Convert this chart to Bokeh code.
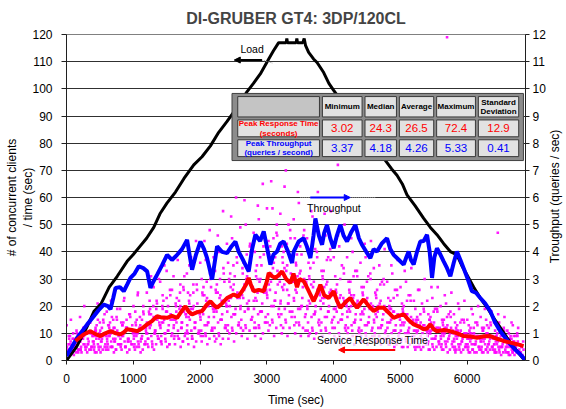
import math
from bokeh.plotting import figure
from bokeh.models import Range1d, LinearAxis, FixedTicker, Label, Arrow, NormalHead
from bokeh.embed import file_html
from bokeh.resources import INLINE

FONT = "Liberation Sans"

# ---------------- data ----------------
load_t = [0, 150, 300, 410, 520, 640, 760, 908, 1000, 1100, 1200, 1307, 1400, 1507, 1632, 1760, 1906,
          2030, 2156, 2280, 2405, 2550, 2705, 2800, 2903, 3029, 3100, 3178, 3290, 3300, 3310, 3440,
          3450, 3460, 3540, 3560, 3580, 3627, 3700, 3753, 3852, 3930, 4002, 4100, 4250, 4400, 4550,
          4650, 4775, 4870, 4950, 5030, 5100, 5220, 5350, 5450, 5549, 5650, 5749, 5848, 5920, 5997,
          6100, 6198, 6300, 6397, 6500, 6597, 6700, 6780, 6846]
load_n = [0, 5, 12, 18, 21, 27, 31, 36.5, 39, 42, 45, 49, 54, 58, 62, 67, 72,
          75, 79, 84, 88, 93, 99, 102, 105.5, 111, 114, 117, 117, 118.5, 117, 117,
          118.5, 117, 117, 118.5, 116, 113.4, 111, 109.7, 106, 102, 99.4, 96, 91, 86, 81,
          77.5, 73.7, 70.5, 68.2, 65, 61, 57, 52.3, 49, 46.3, 43, 40.1, 38.9, 35, 31.6,
          27, 23, 19.5, 15.7, 12, 8.4, 5, 2.5, 0.5]

tp_t = [0, 80, 160, 240, 310, 400, 480, 559, 620, 659, 700, 734, 800, 858, 910, 958, 1020, 1083,
        1150, 1208, 1257, 1300, 1358, 1430, 1507, 1580, 1657, 1730, 1806, 1881, 1940, 2006, 2060,
        2106, 2181, 2256, 2330, 2405, 2470, 2530, 2580, 2630, 2729, 2780, 2829, 2900, 2954, 3000,
        3054, 3100, 3154, 3200, 3253, 3320, 3378, 3403, 3478, 3553, 3600, 3653, 3700, 3728, 3780,
        3828, 3860, 3902, 3950, 4002, 4050, 4102, 4150, 4202, 4260, 4327, 4380, 4426, 4490, 4551,
        4600, 4651, 4720, 4801, 4850, 4900, 4980, 5050, 5090, 5125, 5160, 5200, 5250, 5299, 5350,
        5400, 5440, 5475, 5510, 5549, 5600, 5649, 5700, 5749, 5800, 5848, 5900, 5948, 6010, 6073,
        6130, 6198, 6270, 6347, 6420, 6497, 6570, 6647, 6720, 6796, 6871]
tp_v = [0.17, 0.5, 0.84, 1.1, 1.33, 1.6, 1.85, 2.06, 2.0, 1.89, 2.3, 2.67, 2.7, 2.55, 2.8, 3.04, 3.2, 3.47,
        3.4, 3.28, 2.67, 2.9, 3.16, 3.5, 3.89, 3.7, 3.89, 4.1, 4.44, 3.34, 3.9, 4.38, 4.1,
        3.77, 2.98, 4.2, 4.0, 3.95, 4.2, 4.38, 4.0, 3.77, 3.28, 4.1, 4.63, 4.4, 4.75, 4.2,
        3.53, 3.9, 4.01, 4.3, 4.38, 4.0, 3.59, 4.01, 4.38, 4.5, 4.2, 3.77, 4.6, 5.23, 4.6,
        4.26, 4.7, 4.99, 4.5, 4.13, 4.6, 4.99, 4.6, 4.38, 4.7, 4.99, 4.5, 4.26, 4.0, 3.77,
        4.1, 4.01, 4.3, 4.5, 4.1, 3.89, 3.7, 3.53, 3.8, 4.01, 3.7, 3.53, 4.0, 4.38, 4.4,
        4.63, 4.0, 3.04, 3.8, 4.13, 3.9, 3.65, 3.4, 3.10, 3.6, 4.01, 3.7, 3.40, 3.0, 2.55,
        2.5, 2.30, 2.1, 1.82, 1.4, 1.08, 0.85, 0.6, 0.4, 0.23, 0.02]

rt_t = [135, 250, 359, 430, 509, 580, 659, 740, 808, 860, 908, 980, 1057, 1130, 1207, 1280, 1357,
        1430, 1507, 1580, 1657, 1720, 1781, 1830, 1881, 1960, 2031, 2100, 2156, 2210, 2256, 2330,
        2405, 2505, 2570, 2630, 2690, 2729, 2760, 2804, 2880, 2954, 3000, 3029, 3080, 3129, 3180,
        3229, 3290, 3353, 3400, 3453, 3490, 3553, 3620, 3702, 3760, 3802, 3860, 3927, 4002, 4050,
        4102, 4180, 4251, 4300, 4352, 4400, 4451, 4530, 4601, 4680, 4750, 4830, 4900, 4980, 5050,
        5120, 5200, 5280, 5349, 5400, 5449, 5500, 5549, 5650, 5749, 5850, 5948, 6050, 6148, 6250,
        6347, 6450, 6547, 6650, 6747, 6846]
rt_v = [7.2, 9.5, 10.8, 9.8, 9.0, 10, 10.8, 10, 9.6, 10.4, 11.5, 11.2, 10.8, 11.8, 13.3, 14.5, 16.3,
        15.8, 15.7, 16.4, 15.7, 18, 20, 18, 17, 17.8, 18.2, 20.5, 21.8, 20.3, 19.4, 21,
        23, 24.3, 23.5, 25.5, 28, 30.4, 28, 25.5, 26, 25.5, 29, 32.2, 31, 30.4, 31.5,
        32.8, 30, 28.5, 32, 27, 30, 29.2, 26, 21.8, 25, 27.9, 24, 23, 25.5, 22,
        19.4, 21.5, 23, 21, 19.4, 21, 22.5, 20, 18.2, 19.5, 19.4, 17.5, 15.7, 16.5, 17,
        15, 13.3, 12.5, 11.5, 11.8, 13.3, 11.5, 10.8, 11.2, 10.8, 10, 9, 8.8, 8.4, 8.9,
        9, 8, 7.2, 6.6, 6, 5.3]

# individual request response times (first sample set)
pts_t = [20, 45, 70, 95, 120, 150, 175, 190,
         210, 230, 255, 280, 300, 320, 345, 365, 380, 395,
         410, 430, 450, 470, 490, 510, 530, 550, 570, 590,
         610, 625, 645, 660, 680, 700, 720, 740, 760, 780,
         805, 820, 840, 860, 880, 900, 920, 940, 960, 985,
         1010, 1030, 1050, 1070, 1090, 1110, 1130, 1150, 1170, 1190,
         1205, 1225, 1245, 1265, 1285, 1305, 1325, 1345, 1365, 1385,
         1405, 1420, 1440, 1460, 1480, 1500, 1520, 1540, 1560, 1580,
         1605, 1625, 1645, 1665, 1685, 1705, 1725, 1745, 1765, 1785,
         1805, 1820, 1840, 1860, 1880, 1900, 1920, 1940, 1960, 1985,
         2005, 2025, 2045, 2065, 2085, 2105, 2125, 2145, 2165, 2185,
         2205, 2225, 2245, 2265, 2285, 2305, 2325, 2345, 2365, 2385,
         2405, 2420, 2440, 2460, 2480, 2500, 2520, 2540, 2560, 2580,
         2605, 2625, 2645, 2665, 2685, 2705, 2725, 2745, 2765, 2785,
         2805, 2820, 2840, 2860, 2880, 2900, 2920, 2940, 2960, 2985,
         3005, 3025, 3045, 3065, 3085, 3105, 3125, 3145, 3165, 3185,
         3205, 3225, 3245, 3265, 3285, 3305, 3325, 3345, 3365, 3385,
         3405, 3420, 3440, 3460, 3480, 3500, 3520, 3540, 3560, 3580,
         3605, 3625, 3645, 3665, 3685, 3705, 3725, 3745, 3765, 3785,
         3805, 3820, 3840, 3860, 3880, 3900, 3920, 3940, 3960, 3985,
         4005, 4025, 4045, 4065, 4085, 4105, 4125, 4145, 4165, 4185,
         4205, 4225, 4245, 4265, 4285, 4305, 4325, 4345, 4365, 4385,
         4405, 4420, 4440, 4460, 4480, 4500, 4520, 4540, 4560, 4580,
         4605, 4625, 4645, 4665, 4685, 4705, 4725, 4745, 4765, 4785,
         4805, 4820, 4840, 4860, 4880, 4900, 4920, 4940, 4960, 4985,
         5005, 5025, 5045, 5065, 5085, 5105, 5125, 5145, 5165, 5185,
         5205, 5225, 5245, 5265, 5285, 5305, 5325, 5345, 5365, 5385,
         5405, 5420, 5440, 5460, 5480, 5500, 5520, 5540, 5560, 5580,
         5605, 5625, 5645, 5665, 5685, 5705, 5725, 5745, 5765, 5785,
         5805, 5820, 5840, 5860, 5880, 5900, 5920, 5940, 5960, 5985,
         6005, 6025, 6045, 6065, 6085, 6105, 6125, 6145, 6165, 6185,
         6205, 6225, 6245, 6265, 6285, 6305, 6325, 6345, 6365, 6385,
         6405, 6420, 6440, 6460, 6480, 6500, 6520, 6540, 6560, 6580,
         6605, 6625, 6645, 6665, 6685, 6705, 6725, 6745, 6765, 6790, 6820, 6840,
         5700]
pts_rt = [2, 4, 3, 6, 5, 8, 3, 7,
          4, 9, 6, 12, 5, 8, 14, 4, 10, 7,
          6, 11, 3, 15, 8, 5, 12, 9, 17, 4,
          7, 13, 10, 5, 16, 8, 12, 4, 19, 9,
          6, 14, 10, 22, 5, 12, 8, 17, 7, 13,
          9, 18, 5, 25, 11, 7, 15, 20, 6, 12,
          14, 8, 22, 17, 5, 27, 11, 19, 9, 30,
          13, 7, 24, 16, 10, 33, 20, 6, 15, 26,
          12, 38, 18, 9, 22, 28, 14, 7, 31, 17,
          11, 25, 35, 19, 8, 28, 14, 44, 21, 10,
          16, 30, 9, 24, 37, 13, 20, 48, 27, 11,
          18, 33, 8, 25, 40, 15, 22, 55, 29, 12,
          20, 36, 10, 27, 45, 17, 31, 60, 23, 13,
          19, 38, 11, 28, 50, 21, 33, 42, 15, 26,
          22, 40, 12, 30, 52, 18, 35, 65, 25, 14,
          24, 44, 13, 32, 56, 20, 38, 47, 28, 16,
          21, 42, 12, 34, 70, 26, 50, 18, 37, 29,
          23, 45, 14, 31, 58, 19, 39, 27, 48, 11,
          20, 36, 10, 28, 53, 17, 41, 24, 62, 13,
          22, 33, 9, 27, 46, 16, 38, 25, 55, 12,
          19, 31, 8, 72, 42, 15, 35, 23, 50, 11,
          18, 29, 8, 24, 40, 14, 33, 21, 47, 10,
          17, 27, 7, 22, 38, 13, 31, 19, 44, 9,
          15, 25, 7, 20, 35, 12, 29, 17, 41, 8,
          14, 23, 6, 19, 32, 11, 26, 16, 37, 8,
          13, 21, 5, 17, 29, 10, 24, 14, 34, 7,
          11, 19, 5, 15, 26, 9, 21, 13, 30, 6,
          10, 17, 4, 14, 23, 8, 19, 12, 27, 6,
          9, 15, 4, 12, 21, 7, 17, 10, 25, 5,
          8, 14, 4, 11, 19, 6, 15, 9, 22, 5,
          8, 13, 3, 10, 17, 6, 14, 9, 20, 4,
          7, 12, 3, 9, 15, 5, 12, 8, 18, 4,
          6, 11, 3, 47, 14, 5, 10, 7, 16, 3,
          6, 10, 2, 8, 13, 4, 9, 6, 12, 3, 5, 7,
          119]

# individual request response times (second sample set)
pts2_t = [12, 30, 52, 70, 92, 110, 132, 150, 172, 190, 8, 25, 40, 62, 80, 100, 118, 142, 160, 182,
          212, 230, 252, 270, 292, 310, 332, 350, 372, 390, 208, 225, 240, 262, 280, 300, 318, 342, 360, 382,
          412, 430, 452, 470, 492, 510, 532, 550, 572, 590, 408, 425, 440, 462, 480, 500, 518, 542, 560, 582,
          612, 630, 652, 670, 692, 710, 732, 750, 772, 790, 608, 625, 640, 662, 680, 700, 718, 742, 760, 782,
          812, 830, 852, 870, 892, 910, 932, 950, 972, 990, 808, 825, 840, 862, 880, 900, 918, 942, 960, 982,
          1012, 1030, 1052, 1070, 1092, 1110, 1132, 1150, 1172, 1190, 1008, 1025, 1040, 1062, 1080, 1100, 1118, 1142, 1160, 1182,
          1212, 1230, 1252, 1270, 1292, 1310, 1332, 1350, 1372, 1390, 1208, 1225, 1240, 1262, 1280, 1300, 1318, 1342, 1360, 1382,
          1412, 1430, 1452, 1470, 1492, 1510, 1532, 1550, 1572, 1590, 1408, 1425, 1440, 1462, 1480, 1500, 1518, 1542, 1560, 1582,
          1612, 1630, 1652, 1670, 1692, 1710, 1732, 1750, 1772, 1790, 1608, 1625, 1640, 1662, 1680, 1700, 1718, 1742, 1760, 1782,
          1812, 1830, 1852, 1870, 1892, 1910, 1932, 1950, 1972, 1990, 1808, 1825, 1840, 1862, 1880, 1900, 1918, 1942, 1960, 1982,
          2012, 2030, 2052, 2070, 2092, 2110, 2132, 2150, 2172, 2190, 2008, 2025, 2040, 2062, 2080, 2100, 2118, 2142, 2160, 2182,
          2212, 2230, 2252, 2270, 2292, 2310, 2332, 2350, 2372, 2390, 2208, 2225, 2240, 2262, 2280, 2300, 2318, 2342, 2360, 2382,
          2412, 2430, 2452, 2470, 2492, 2510, 2532, 2550, 2572, 2590, 2408, 2425, 2440, 2462, 2480, 2500, 2518, 2542, 2560, 2582,
          2612, 2630, 2652, 2670, 2692, 2710, 2732, 2750, 2772, 2790, 2608, 2625, 2640, 2662, 2680, 2700, 2718, 2742, 2760, 2782,
          2812, 2830, 2852, 2870, 2892, 2910, 2932, 2950, 2972, 2990, 2808, 2825, 2840, 2862, 2880, 2900, 2918, 2942, 2960, 2982,
          3012, 3030, 3052, 3070, 3092, 3110, 3132, 3150, 3172, 3190, 3008, 3025, 3040, 3062, 3080, 3100, 3118, 3142, 3160, 3182,
          3212, 3230, 3252, 3270, 3292, 3310, 3332, 3350, 3372, 3390, 3208, 3225, 3240, 3262, 3280, 3300, 3318, 3342, 3360, 3382,
          3412, 3430, 3452, 3470, 3492, 3510, 3532, 3550, 3572, 3590, 3408, 3425, 3440, 3462, 3480, 3500, 3518, 3542, 3560, 3582,
          3612, 3630, 3652, 3670, 3692, 3710, 3732, 3750, 3772, 3790, 3608, 3625, 3640, 3662, 3680, 3700, 3718, 3742, 3760, 3782,
          3812, 3830, 3852, 3870, 3892, 3910, 3932, 3950, 3972, 3990, 3808, 3825, 3840, 3862, 3880, 3900, 3918, 3942, 3960, 3982,
          4012, 4030, 4052, 4070, 4092, 4110, 4132, 4150, 4172, 4190, 4008, 4025, 4040, 4062, 4080, 4100, 4118, 4142, 4160, 4182,
          4212, 4230, 4252, 4270, 4292, 4310, 4332, 4350, 4372, 4390, 4208, 4225, 4240, 4262, 4280, 4300, 4318, 4342, 4360, 4382,
          4412, 4430, 4452, 4470, 4492, 4510, 4532, 4550, 4572, 4590, 4408, 4425, 4440, 4462, 4480, 4500, 4518, 4542, 4560, 4582,
          4612, 4630, 4652, 4670, 4692, 4710, 4732, 4750, 4772, 4790, 4608, 4625, 4640, 4662, 4680, 4700, 4718, 4742, 4760, 4782,
          4812, 4830, 4852, 4870, 4892, 4910, 4932, 4950, 4972, 4990, 4808, 4825, 4840, 4862, 4880, 4900, 4918, 4942, 4960, 4982,
          5012, 5030, 5052, 5070, 5092, 5110, 5132, 5150, 5172, 5190, 5008, 5025, 5040, 5062, 5080, 5100, 5118, 5142, 5160, 5182,
          5212, 5230, 5252, 5270, 5292, 5310, 5332, 5350, 5372, 5390, 5208, 5225, 5240, 5262, 5280, 5300, 5318, 5342, 5360, 5382,
          5412, 5430, 5452, 5470, 5492, 5510, 5532, 5550, 5572, 5590, 5408, 5425, 5440, 5462, 5480, 5500, 5518, 5542, 5560, 5582,
          5612, 5630, 5652, 5670, 5692, 5710, 5732, 5750, 5772, 5790, 5608, 5625, 5640, 5662, 5680, 5700, 5718, 5742, 5760, 5782,
          5812, 5830, 5852, 5870, 5892, 5910, 5932, 5950, 5972, 5990, 5808, 5825, 5840, 5862, 5880, 5900, 5918, 5942, 5960, 5982,
          6012, 6030, 6052, 6070, 6092, 6110, 6132, 6150, 6172, 6190, 6008, 6025, 6040, 6062, 6080, 6100, 6118, 6142, 6160, 6182,
          6212, 6230, 6252, 6270, 6292, 6310, 6332, 6350, 6372, 6390, 6208, 6225, 6240, 6262, 6280, 6300, 6318, 6342, 6360, 6382,
          6412, 6430, 6452, 6470, 6492, 6510, 6532, 6550, 6572, 6590, 6408, 6425, 6440, 6462, 6480, 6500, 6518, 6542, 6560, 6582,
          6612, 6630, 6652, 6670, 6692, 6710, 6732, 6750, 6772, 6790, 6608, 6625, 6640, 6662, 6680, 6700, 6718, 6742, 6760, 6782,
          6805, 6815, 6830, 6845]
pts2_rt = [3, 6, 9, 5, 8, 2, 6, 11, 4, 7, 5, 3, 8, 7, 4, 10, 5, 3, 7, 4,
           4, 8, 12, 6, 10, 3, 7, 14, 5, 9, 7, 3, 11, 9, 5, 13, 6, 4, 10, 5,
           4, 9, 13, 6, 10, 3, 8, 15, 5, 10, 7, 3, 11, 9, 5, 14, 7, 4, 10, 6,
           5, 9, 14, 7, 11, 3, 8, 16, 6, 10, 8, 4, 12, 10, 5, 15, 7, 4, 11, 6,
           5, 9, 14, 7, 12, 3, 8, 17, 6, 11, 8, 4, 13, 10, 5, 15, 7, 4, 11, 6,
           5, 10, 15, 7, 12, 3, 9, 18, 6, 11, 8, 4, 13, 10, 6, 16, 8, 4, 12, 7,
           6, 13, 19, 9, 15, 4, 11, 22, 8, 14, 10, 5, 17, 13, 7, 20, 10, 6, 15, 8,
           7, 14, 22, 10, 18, 5, 13, 26, 9, 16, 12, 6, 19, 15, 8, 23, 11, 6, 17, 10,
           8, 15, 23, 11, 19, 5, 14, 27, 9, 17, 13, 6, 20, 16, 8, 25, 12, 7, 18, 10,
           8, 16, 24, 11, 19, 5, 14, 28, 10, 18, 13, 6, 21, 17, 9, 25, 12, 7, 18, 11,
           9, 18, 27, 13, 22, 6, 16, 32, 11, 20, 15, 7, 24, 19, 10, 29, 14, 8, 21, 12,
           9, 19, 28, 14, 23, 6, 17, 34, 12, 21, 16, 7, 25, 20, 10, 30, 15, 8, 22, 13,
           11, 22, 32, 16, 26, 7, 19, 38, 13, 24, 18, 8, 29, 23, 12, 35, 17, 10, 25, 14,
           12, 24, 36, 18, 30, 8, 22, 43, 15, 27, 20, 9, 32, 26, 13, 39, 19, 11, 28, 16,
           12, 23, 35, 17, 29, 8, 21, 42, 14, 26, 19, 9, 31, 25, 13, 38, 18, 10, 27, 16,
           14, 28, 42, 20, 34, 9, 25, 50, 17, 31, 23, 11, 37, 29, 15, 45, 22, 12, 33, 19,
           13, 27, 40, 19, 33, 9, 24, 48, 16, 30, 22, 10, 36, 28, 15, 43, 21, 12, 32, 18,
           13, 26, 39, 19, 32, 9, 23, 46, 16, 29, 22, 10, 35, 28, 14, 42, 20, 12, 30, 17,
           11, 22, 34, 16, 27, 8, 20, 40, 14, 25, 19, 9, 30, 24, 12, 36, 17, 10, 26, 15,
           11, 23, 33, 16, 28, 7, 20, 41, 14, 25, 19, 9, 30, 23, 12, 37, 18, 10, 26, 15,
           9, 19, 28, 14, 23, 6, 17, 34, 12, 21, 16, 7, 25, 20, 10, 30, 15, 8, 22, 13,
           10, 19, 29, 13, 23, 6, 17, 33, 11, 21, 16, 8, 25, 20, 11, 31, 14, 9, 22, 12,
           9, 18, 27, 13, 22, 6, 16, 32, 11, 20, 15, 7, 24, 19, 10, 29, 14, 8, 21, 12,
           9, 17, 26, 12, 21, 6, 15, 30, 10, 19, 14, 7, 23, 18, 9, 28, 13, 8, 20, 11,
           7, 14, 22, 10, 18, 5, 13, 26, 9, 16, 12, 6, 19, 15, 8, 23, 11, 6, 17, 10,
           7, 14, 20, 10, 17, 5, 12, 24, 8, 15, 11, 5, 18, 14, 8, 22, 11, 6, 16, 9,
           5, 11, 16, 8, 13, 4, 10, 19, 7, 12, 9, 4, 14, 11, 6, 17, 8, 5, 13, 7,
           6, 11, 16, 8, 13, 4, 9, 19, 7, 12, 9, 4, 15, 11, 6, 18, 8, 5, 12, 7,
           5, 10, 15, 7, 12, 3, 9, 18, 6, 11, 8, 4, 13, 10, 6, 16, 8, 4, 12, 7,
           4, 9, 13, 6, 10, 3, 8, 15, 5, 10, 7, 3, 11, 9, 5, 14, 7, 4, 10, 6,
           4, 8, 12, 6, 9, 3, 7, 14, 5, 9, 6, 3, 10, 8, 4, 12, 6, 3, 9, 5,
           4, 8, 12, 6, 10, 3, 7, 14, 5, 9, 7, 3, 11, 8, 4, 13, 6, 4, 9, 5,
           3, 7, 10, 5, 8, 2, 6, 12, 4, 8, 6, 3, 9, 7, 4, 11, 5, 3, 8, 5,
           3, 6, 9, 4, 7, 2, 5, 10, 3, 6, 5, 2, 8, 6, 3, 9, 4, 3, 7, 4,
           3, 5, 2, 4]

# individual request response times (third sample set)
pts3_t = [3, 18, 35, 47, 66, 86, 105, 125, 155, 195,
          203, 218, 235, 247, 266, 286, 305, 325, 355, 395,
          403, 418, 435, 447, 466, 486, 505, 525, 555, 595,
          603, 618, 635, 647, 666, 686, 705, 725, 755, 795,
          803, 818, 835, 847, 866, 886, 905, 925, 955, 995,
          1003, 1018, 1035, 1047, 1066, 1086, 1105, 1125, 1155, 1195,
          1203, 1218, 1235, 1247, 1266, 1286, 1305, 1325, 1355, 1395,
          1403, 1418, 1435, 1447, 1466, 1486, 1505, 1525, 1555, 1595,
          1603, 1618, 1635, 1647, 1666, 1686, 1705, 1725, 1755, 1795,
          1803, 1818, 1835, 1847, 1866, 1886, 1905, 1925, 1955, 1995,
          2003, 2018, 2035, 2047, 2066, 2086, 2105, 2125, 2155, 2195,
          2203, 2218, 2235, 2247, 2266, 2286, 2305, 2325, 2355, 2395,
          2403, 2418, 2435, 2447, 2466, 2486, 2505, 2525, 2555, 2595,
          2603, 2618, 2635, 2647, 2666, 2686, 2705, 2725, 2755, 2795,
          2803, 2818, 2835, 2847, 2866, 2886, 2905, 2925, 2955, 2995,
          3003, 3018, 3035, 3047, 3066, 3086, 3105, 3125, 3155, 3195,
          3203, 3218, 3235, 3247, 3266, 3286, 3305, 3325, 3355, 3395,
          3403, 3418, 3435, 3447, 3466, 3486, 3505, 3525, 3555, 3595,
          3603, 3618, 3635, 3647, 3666, 3686, 3705, 3725, 3755, 3795,
          3803, 3818, 3835, 3847, 3866, 3886, 3905, 3925, 3955, 3995,
          4003, 4018, 4035, 4047, 4066, 4086, 4105, 4125, 4155, 4195,
          4203, 4218, 4235, 4247, 4266, 4286, 4305, 4325, 4355, 4395,
          4403, 4418, 4435, 4447, 4466, 4486, 4505, 4525, 4555, 4595,
          4603, 4618, 4635, 4647, 4666, 4686, 4705, 4725, 4755, 4795,
          4803, 4818, 4835, 4847, 4866, 4886, 4905, 4925, 4955, 4995,
          5003, 5018, 5035, 5047, 5066, 5086, 5105, 5125, 5155, 5195,
          5203, 5218, 5235, 5247, 5266, 5286, 5305, 5325, 5355, 5395,
          5403, 5418, 5435, 5447, 5466, 5486, 5505, 5525, 5555, 5595,
          5603, 5618, 5635, 5647, 5666, 5686, 5705, 5725, 5755, 5795,
          5803, 5818, 5835, 5847, 5866, 5886, 5905, 5925, 5955, 5995,
          6003, 6018, 6035, 6047, 6066, 6086, 6105, 6125, 6155, 6195,
          6203, 6218, 6235, 6247, 6266, 6286, 6305, 6325, 6355, 6395,
          6403, 6418, 6435, 6447, 6466, 6486, 6505, 6525, 6555, 6595,
          6603, 6618, 6635, 6647, 6666, 6686, 6705, 6725, 6755, 6795]
pts3_rt = [13, 4, 9, 6, 15, 3, 8, 5, 10, 7,
           16, 5, 11, 8, 20, 4, 10, 6, 14, 9,
           17, 5, 12, 8, 21, 4, 11, 7, 14, 9,
           18, 6, 13, 9, 22, 5, 12, 7, 15, 10,
           19, 6, 13, 9, 23, 5, 12, 7, 16, 10,
           20, 6, 14, 9, 24, 5, 13, 8, 17, 10,
           25, 8, 18, 12, 31, 6, 16, 10, 21, 13,
           29, 9, 20, 14, 35, 7, 18, 11, 24, 15,
           31, 9, 21, 14, 37, 8, 20, 12, 26, 16,
           32, 10, 22, 15, 38, 8, 20, 12, 26, 17,
           36, 11, 25, 17, 44, 9, 23, 14, 30, 19,
           38, 12, 26, 18, 46, 9, 24, 15, 32, 20,
           43, 13, 30, 20, 53, 11, 28, 17, 36, 23,
           49, 15, 34, 23, 59, 12, 31, 19, 40, 26,
           47, 14, 33, 22, 57, 12, 30, 18, 39, 25,
           56, 17, 39, 26, 66, 14, 36, 22, 46, 29,
           54, 17, 38, 26, 64, 14, 35, 21, 45, 29,
           52, 16, 36, 25, 62, 13, 33, 20, 44, 28,
           45, 14, 31, 21, 55, 11, 29, 18, 38, 24,
           45, 14, 31, 21, 54, 11, 29, 18, 37, 24,
           38, 12, 26, 18, 46, 9, 24, 15, 32, 20,
           38, 12, 26, 18, 45, 9, 24, 15, 31, 20,
           36, 11, 25, 17, 43, 9, 23, 14, 30, 19,
           34, 10, 24, 16, 41, 9, 22, 13, 28, 18,
           29, 9, 20, 14, 35, 7, 18, 11, 24, 15,
           27, 8, 19, 13, 33, 7, 17, 10, 22, 14,
           22, 7, 15, 10, 26, 5, 14, 8, 18, 11,
           22, 7, 15, 10, 27, 5, 14, 8, 18, 11,
           20, 6, 14, 9, 24, 5, 13, 8, 16, 10,
           17, 5, 12, 8, 21, 4, 11, 7, 14, 9,
           15, 5, 11, 7, 19, 4, 10, 6, 13, 8,
           16, 5, 11, 7, 19, 4, 10, 6, 13, 8,
           14, 4, 9, 6, 17, 3, 9, 5, 11, 7,
           11, 3, 8, 5, 14, 3, 7, 4, 9, 6]

x_ticks = [0, 1000, 2000, 3000, 4000, 5000, 6000]
y_ticks = list(range(0, 121, 10))
y2_ticks = list(range(0, 13))

stat_names = ["Minimum", "Median", "Average", "Maximum", "Standard\nDeviation"]
row_names = ["Peak Response Time\n(seconds)", "Peak Throughput\n(queries / second)"]
rt_stats = ["3.02", "24.3", "26.5", "72.4", "12.9"]
tp_stats = ["3.37", "4.18", "4.26", "5.33", "0.41"]

# ---------------- figure ----------------
p = figure(width=566, height=409, output_backend="svg", toolbar_location=None,
           x_range=Range1d(0, 6875), y_range=Range1d(0, 120),
           min_border_left=66, min_border_right=41, min_border_top=32, min_border_bottom=49)
p.extra_y_ranges = {"tp": Range1d(0, 12)}

p.title.text = "DI-GRUBER GT4: 3DP/120CL"
p.title.text_font = FONT
p.title.text_font_size = "16px"
p.title.text_font_style = "bold"
p.title.align = "center"
p.title.offset = -33
p.title.standoff = 15

p.outline_line_color = "#808080"
p.background_fill_color = "white"
p.border_fill_color = "white"
p.xgrid.grid_line_color = None
p.ygrid.ticker = FixedTicker(ticks=y_ticks)
p.ygrid.grid_line_color = "#303030"
p.ygrid.grid_line_width = 1

def style_axis(ax):
    ax.axis_line_color = "#202020"
    ax.major_tick_line_color = "#202020"
    ax.minor_tick_line_color = None
    ax.major_tick_in = 0
    ax.major_label_text_font = FONT
    ax.major_label_text_font_size = "12px"
    ax.major_label_text_color = "black"
    ax.axis_label_text_font = FONT
    ax.axis_label_text_font_size = "12px"
    ax.axis_label_text_font_style = "normal"
    ax.axis_label_text_color = "black"

xa = p.xaxis[0]
style_axis(xa)
xa.ticker = FixedTicker(ticks=x_ticks)
xa.major_tick_out = 4
xa.major_label_standoff = 9
xa.axis_label = "Time (sec)"
xa.axis_label_standoff = 7

ya = p.yaxis[0]
style_axis(ya)
ya.ticker = FixedTicker(ticks=y_ticks)
ya.major_tick_out = 5
ya.major_label_standoff = 9
ya.axis_label = "# of concurrent clients\n/ time (sec)"
ya.axis_label_standoff = -6

ra = LinearAxis(y_range_name="tp")
style_axis(ra)
ra.ticker = FixedTicker(ticks=y2_ticks)
ra.major_tick_out = 4
ra.major_label_standoff = 3
ra.axis_label = None
p.add_layout(ra, "right")

# right-axis title, reading bottom-to-top, placed in the right border panel
p.add_layout(Label(x=6, y=164, x_units="screen", y_units="screen",
                   text="Troughput (queries / sec)", angle=math.pi / 2,
                   text_align="center", text_baseline="middle", text_font=FONT,
                   text_font_size="12px", text_color="black"), "right")

# ---------------- data marks ----------------
for tt, vv in ((pts_t, pts_rt), (pts2_t, pts2_rt), (pts3_t, pts3_rt)):
    p.scatter(tt, vv, marker="square", size=2.6, color="#ff00ff", alpha=0.9, line_color=None)
p.line(load_t, load_n, line_color="black", line_width=3)
p.line(tp_t, tp_v, y_range_name="tp", line_color="#0000ff", line_width=4)
p.line(rt_t, rt_v, line_color="#ff0000", line_width=4)

# ---------------- annotations ----------------
def ann_label(x, y, text, color="black", size="10.5px", bg=None):
    lab = Label(x=x, y=y, text=text, text_font=FONT, text_font_size=size, text_color=color,
                text_baseline="middle", text_align="left")
    if bg:
        lab.background_fill_color = bg
        lab.background_fill_alpha = 0.75
    p.add_layout(lab)

ann_label(2605, 114.5, "Load")
p.add_layout(Arrow(end=NormalHead(size=6, fill_color="black", line_color="black"),
                   x_start=2928, y_start=110.6, x_end=2513, y_end=110.6,
                   line_color="black", line_width=2))
p.add_layout(Arrow(end=None, x_start=2928, y_start=110.6, x_end=3083, y_end=109.5,
                   line_color="#999999", line_width=1, line_dash="1 1"))

ann_label(3602, 56.3, "Throughput")
p.add_layout(Arrow(end=None, x_start=3502, y_start=60.0, x_end=4624, y_end=60.0,
                   line_color="#999999", line_width=1, line_dash="1 1"))
p.add_layout(Arrow(end=NormalHead(size=6, fill_color="#0000ff", line_color="#0000ff"),
                   x_start=3651, y_start=60.0, x_end=4250, y_end=60.0,
                   line_color="#0000ff", line_width=2))

ann_label(3751, 7.6, "Service Response Time", bg="white")
p.add_layout(Arrow(end=NormalHead(size=6, fill_color="#ff0000", line_color="#ff0000"),
                   x_start=4924, y_start=3.9, x_end=4075, y_end=3.9,
                   line_color="#ff0000", line_width=2))

# ---------------- stats table ----------------
col_edges = [2543, 3811, 4449, 4964, 5522, 6147, 6795]
row_edges = [97.7, 89.1, 81.8, 74.5]
p.quad(left=[2479], right=[6844], top=[98.3], bottom=[73.6], fill_color="#8c8c8c", line_color="#404040", line_width=1)
dx, dy = 22, 0.55
for r in range(3):
    for c in range(6):
        fill = "#c4c4c4" if (r == 0 and c == 0) else "#e2e2e2"
        p.quad(left=[col_edges[c] + dx], right=[col_edges[c + 1] - dx],
               top=[row_edges[r] - dy], bottom=[row_edges[r + 1] + dy],
               fill_color=fill, line_color="#3a3a3a", line_width=1)

def cell_text(r, c, text, color, size, bold):
    xc = (col_edges[c] + col_edges[c + 1]) / 2
    yc = (row_edges[r] + row_edges[r + 1]) / 2
    p.add_layout(Label(x=xc, y=yc, text=text, text_font=FONT, text_font_size=size,
                       text_font_style="bold" if bold else "normal", text_color=color,
                       text_align="center", text_baseline="middle", text_line_height=1.05))

for i, name in enumerate(stat_names):
    cell_text(0, i + 1, name, "black", "8px", True)
cell_text(1, 0, row_names[0], "#ff0000", "8px", True)
cell_text(2, 0, row_names[1], "#0000ff", "8px", True)
for i in range(5):
    cell_text(1, i + 1, rt_stats[i], "#ff0000", "11.5px", False)
    cell_text(2, i + 1, tp_stats[i], "#0000ff", "11.5px", False)

open("out.html", "w").write(file_html(p, INLINE))
